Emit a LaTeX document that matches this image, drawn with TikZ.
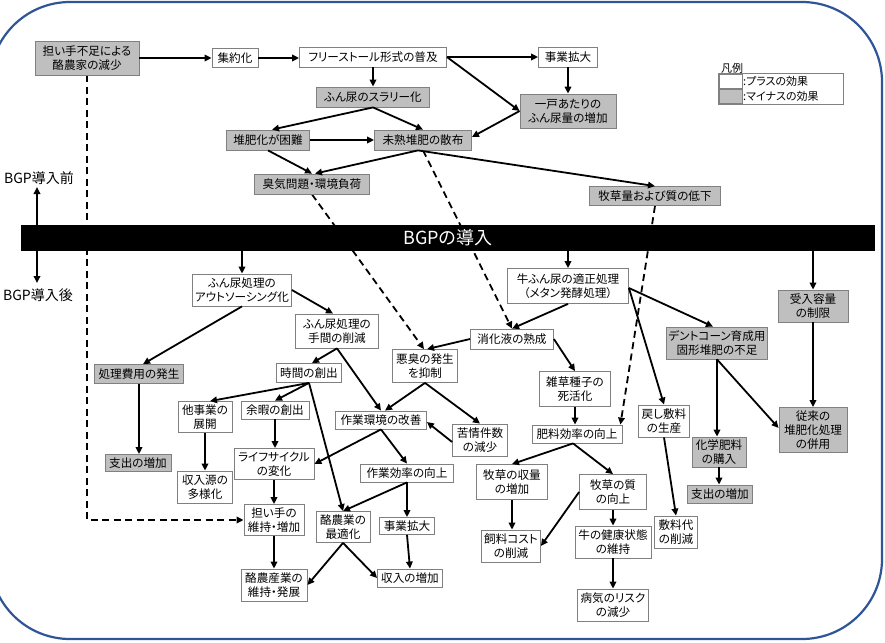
\documentclass[tikz,border=0pt]{standalone}
\usepackage{fontspec}
\setmainfont{Noto Sans CJK JP}[RawFeature=+palt]
\usetikzlibrary{arrows.meta}
\definecolor{fillgray}{RGB}{191,191,191}
\definecolor{boxgray}{RGB}{128,128,128}
\definecolor{frameblue}{RGB}{47,85,151}
\pgfdeclarelayer{bg}
\pgfsetlayers{bg,main}
\newcommand{\fsn}{\fontsize{11.6}{14}\selectfont}
\newcommand{\fsl}{\fontsize{11}{13}\selectfont}
\tikzset{
  bx/.style={draw=boxgray, line width=0.8pt, fill=white, align=center,
    inner xsep=1pt, inner ysep=1pt, font=\fsn},
  gb/.style={bx, fill=fillgray},
  arr/.style={line width=1.8pt, -{Triangle[length=7pt,width=6.5pt]}},
  darr/.style={arr, dash pattern=on 7pt off 4.5pt},
}
\begin{document}
\begin{tikzpicture}[x=1pt,y=-1pt]
\useasboundingbox (0,0) rectangle (885,642);
\draw[frameblue, line width=2.2pt, rounded corners=80pt] (-10,2) rectangle (882,639);

% bar
\node[fill=black, minimum width=854pt, minimum height=26pt, inner sep=0pt,
  text=white, font=\fontsize{18}{20}\selectfont] (bar) at (448,238) {BGPの導入};
\node[font=\fontsize{14}{16}\selectfont, inner sep=0pt] (lpre) at (39,178) {BGP導入前};
\node[font=\fontsize{14}{16}\selectfont, inner sep=0pt] (lpost) at (38,295) {BGP導入後};
\coordinate (upend) at (37,187);
\coordinate (dnend) at (37,283);

% legend
\node[font=\fsl, inner sep=0pt] (lgt) at (732,68) {凡例};
\node[draw=boxgray, line width=0.8pt, minimum width=125pt, minimum height=31pt, inner sep=0pt] (lg) at (780.5,88.5) {};
\node[draw=boxgray, line width=0.8pt, fill=white, minimum width=23pt, minimum height=14pt, inner sep=0pt] (sw1) at (730.5,81) {};
\node[draw=boxgray, line width=0.8pt, fill=fillgray, minimum width=23pt, minimum height=14pt, inner sep=0pt] (sw2) at (730.5,96) {};
\node[font=\fsl, anchor=west, inner sep=0pt] (lp) at (743,81) {:プラスの効果};
\node[font=\fsl, anchor=west, inner sep=0pt] (lm) at (743,96) {:マイナスの効果};

% upper nodes
\node[gb, minimum width=104pt, minimum height=34pt] (N1) at (87,58) {担い手不足による\\酪農家の減少};
\node[bx, minimum width=46pt, minimum height=19pt] (N2) at (235,58) {集約化};
\node[bx, minimum width=147pt, minimum height=20pt] (N3) at (373,57) {フリーストール形式の普及};
\node[gb, minimum width=113pt, minimum height=20pt] (N4) at (373,97) {ふん尿のスラリー化};
\node[gb, minimum width=83pt, minimum height=20pt] (N5) at (268,140) {堆肥化が困難};
\node[gb, minimum width=97pt, minimum height=20pt] (N6) at (423,140) {未熟堆肥の散布};
\node[gb, minimum width=115pt, minimum height=20pt] (N7) at (312,184) {臭気問題・環境負荷};
\node[bx, minimum width=59pt, minimum height=20pt] (N8) at (568,57) {事業拡大};
\node[gb, minimum width=96pt, minimum height=34pt] (N9) at (568,111) {一戸あたりの\\ふん尿量の増加};
\node[gb, minimum width=131pt, minimum height=19pt] (N10) at (655,196) {牧草量および質の低下};

% lower nodes
\node[bx, minimum width=99pt, minimum height=32pt] (N11) at (242,290) {ふん尿処理の\\アウトソーシング化};
\node[bx, minimum width=83pt, minimum height=34pt] (N12) at (337,331) {ふん尿処理の\\手間の削減};
\node[gb, minimum width=89pt, minimum height=19pt] (N13) at (139,374) {処理費用の発生};
\node[bx, minimum width=65pt, minimum height=19pt] (N14) at (309,373) {時間の創出};
\node[bx, minimum width=65pt, minimum height=33pt] (N15) at (425,366) {悪臭の発生\\を抑制};
\node[bx, minimum width=54pt, minimum height=31pt] (N16) at (205,417) {他事業の\\展開};
\node[bx, minimum width=68pt, minimum height=18pt] (N17) at (275,410) {余暇の創出};
\node[bx, minimum width=80pt, minimum height=31pt] (N18) at (274,464) {ライフサイクル\\の変化};
\node[bx, minimum width=55pt, minimum height=32pt] (N19) at (205,487) {収入源の\\多様化};
\node[bx, minimum width=91pt, minimum height=18pt] (N20) at (381,420) {作業環境の改善};
\node[bx, minimum width=55pt, minimum height=32pt] (N21) at (480,440) {苦情件数\\の減少};
\node[bx, minimum width=93pt, minimum height=18pt] (N22) at (407,473) {作業効率の向上};
\node[bx, minimum width=60pt, minimum height=31pt] (N23) at (274,520) {担い手の\\維持・増加};
\node[bx, minimum width=54pt, minimum height=31pt] (N24) at (343,527) {酪農業の\\最適化};
\node[bx, minimum width=55pt, minimum height=17pt] (N25) at (407,526) {事業拡大};
\node[bx, minimum width=66pt, minimum height=32pt] (N26) at (274,585) {酪農産業の\\維持・発展};
\node[bx, minimum width=65pt, minimum height=18pt] (N27) at (410,578) {収入の増加};
\node[gb, minimum width=66pt, minimum height=17pt] (N28) at (138,463) {支出の増加};
\node[bx, minimum width=121pt, minimum height=35pt] (N29) at (568,286) {牛ふん尿の適正処理\\（メタン発酵処理）};
\node[bx, minimum width=83pt, minimum height=20pt] (N30) at (512,339) {消化液の熟成};
\node[bx, minimum width=71pt, minimum height=35pt] (N31) at (575,389) {雑草種子の\\死活化};
\node[bx, minimum width=90pt, minimum height=18pt] (N32) at (577,434) {肥料効率の向上};
\node[bx, minimum width=51pt, minimum height=32pt] (N33) at (664,421) {戻し敷料\\の生産};
\node[gb, minimum width=101pt, minimum height=32pt] (N34) at (717,343) {デントコーン育成用\\固形堆肥の不足};
\node[gb, minimum width=70pt, minimum height=32pt] (N35) at (813,306) {受入容量\\の制限};
\node[gb, minimum width=68pt, minimum height=45pt] (N36) at (813,430) {従来の\\堆肥化処理\\の併用};
\node[gb, minimum width=54pt, minimum height=30pt] (N37) at (719,452) {化学肥料\\の購入};
\node[gb, minimum width=65pt, minimum height=18pt] (N38) at (720,494) {支出の増加};
\node[bx, minimum width=71pt, minimum height=35pt] (N39) at (512,482) {牧草の収量\\の増加};
\node[bx, minimum width=67pt, minimum height=35pt] (N40) at (613,492) {牧草の質\\の向上};
\node[bx, minimum width=59pt, minimum height=32pt] (N41) at (511,546) {飼料コスト\\の削減};
\node[bx, minimum width=76pt, minimum height=32pt] (N42) at (613,542) {牛の健康状態\\の維持};
\node[bx, minimum width=43pt, minimum height=32pt] (N43) at (676,532) {敷料代\\の削減};
\node[bx, minimum width=71pt, minimum height=32pt] (N44) at (613,605) {病気のリスク\\の減少};

% dashed connectors (behind)
\begin{pgfonlayer}{bg}
\draw[darr] (N1.south) |- (N23.west);
\draw[darr] (N6.south) -- (N30.north);
\draw[darr] (N7.south) -- ([xshift=-1pt]N15.north);
\draw[darr] (N10.south) -- ([xshift=-2pt]N32.north east);
\end{pgfonlayer}

% BGP arrows
\draw[arr] (bar.north -| upend) -- (upend);
\draw[arr] (bar.south -| dnend) -- (dnend);
\draw[arr] (bar.south -| N11.north) -- (N11.north);
\draw[arr] (bar.south -| N29.north) -- (N29.north);
\draw[arr] (bar.south -| N35.north) -- (N35.north);

% upper connectors
\draw[arr] (N1.east) -- (N2.west);
\draw[arr] (N2.east) -- (N2.east -| N3.west);
\draw[arr] (N3.east) -- (N8.west);
\draw[arr] (N3.east) -- (N9.west);
\draw[arr] (N8.south) -- (N9.north);
\draw[arr] (N9.west) -- ([yshift=3pt]N6.east);
\draw[arr] (N3.south) -- (N4.north);
\draw[arr] (N4.south) -- ([xshift=4pt]N5.north);
\draw[arr] (N4.south) -- (N6.north);
\draw[arr] (N5.east) -- (N6.west);
\draw[arr] (N5.south) -- (N7.north);
\draw[arr] ([xshift=-5pt]N6.south) -- ([xshift=3pt]N7.north);
\draw[arr] ([xshift=-5pt]N6.south) -- (N10.north);

% lower left connectors
\draw[arr] (N11.south) -- ([xshift=4pt]N13.north);
\draw[arr] (N11.east) -- ([xshift=-4pt]N12.north);
\draw[arr] (N12.south) -- ([xshift=3pt]N14.north);
\draw[arr] (N12.south) -- (N20.north);
\draw[arr] (N14.south) -- ([xshift=5pt]N16.north);
\draw[arr] (N14.south) -- (N17.north);
\draw[arr] (N14.south) -- (N24.north);
\draw[arr] (N13.south) -- (N13.south |- N28.north);
\draw[arr] (N16.south) -- (N19.north);
\draw[arr] (N17.south) -- (N17.south |- N18.north);
\draw[arr] (N18.south) -- (N23.north);
\draw[arr] (N23.south) -- (N26.north);
\draw[arr] (N20.south) -- (N18.east);
\draw[arr] (N20.south) -- (N22.north);
\draw[arr] (N15.south) -- ([xshift=4pt]N20.north);
\draw[arr] (N15.south) -- (N21.north);
\draw[arr] ([yshift=-2pt]N21.west) -- ([yshift=-2pt]N20.east);
\draw[arr] (N22.south) -- (N24.north);
\draw[arr] (N22.south) -- (N25.north);
\draw[arr] (N24.south) -- (N26.east);
\draw[arr] (N24.south) -- (N27.west);
\draw[arr] (N25.south) -- (N27.north);

% lower right connectors
\draw[arr] (N29.south) -- (N30.north);
\draw[arr] (N30.west) -- ([xshift=2pt]N15.north);
\draw[arr] (N30.east) -- (N31.north);
\draw[arr] (N31.south) -- (N31.south |- N32.north);
\draw[arr] ([xshift=-4pt]N32.south) -- (N39.north);
\draw[arr] ([xshift=-4pt]N32.south) -- (N40.north);
\draw[arr] (N39.south) -- (N39.south |- N41.north);
\draw[arr] (N40.west) -- (N41.east);
\draw[arr] (N40.south) -- (N42.north);
\draw[arr] (N42.south) -- (N44.north);
\draw[arr] ([yshift=-2pt]N29.east) -- (N33.north);
\draw[arr] ([yshift=-2pt]N29.east) -- ([xshift=-4pt]N34.north);
\draw[arr] (N33.south) -- (N43.north);
\draw[arr] (N34.south) -- (N34.south |- N37.north);
\draw[arr] (N34.south) -- ([yshift=2pt]N36.west);
\draw[arr] (N37.south) -- (N37.south |- N38.north);
\draw[arr] (N35.south) -- (N36.north);
\end{tikzpicture}
\end{document}
